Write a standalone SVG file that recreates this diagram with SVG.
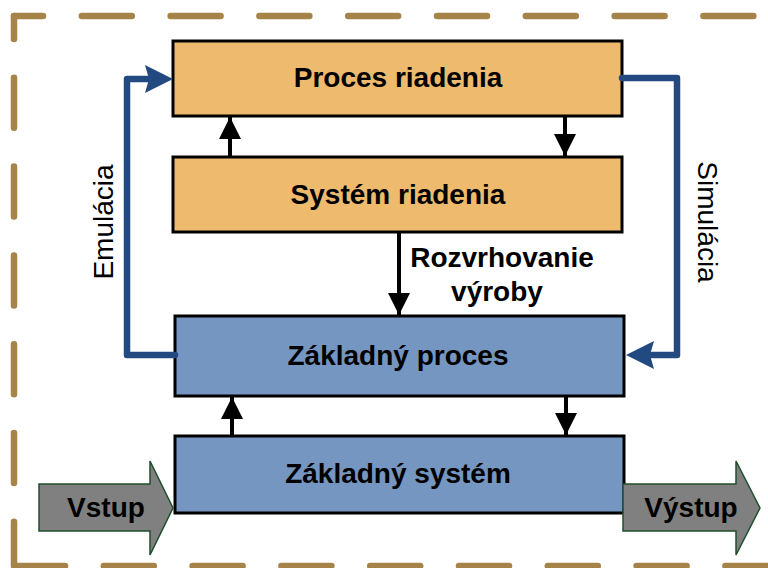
<svg xmlns="http://www.w3.org/2000/svg" width="768" height="568" viewBox="0 0 768 568">
  <style>
    .frame { fill: none; stroke: #A68449; stroke-width: 6.5; stroke-dasharray: 50 38.8; stroke-linecap: round; }
    .ctrl { fill: #EDBA6E; stroke: #000; stroke-width: 3; }
    .base { fill: #7496C0; stroke: #000; stroke-width: 3; }
    .lbl { font-family: "Liberation Sans", Arial, sans-serif; font-weight: bold; font-size: 28px; fill: #000; text-anchor: middle; }
    .side { font-family: "Liberation Sans", Arial, sans-serif; font-size: 28px; fill: #000; text-anchor: middle; }
    .blk { stroke: #000; stroke-width: 4; fill: none; }
    .blue { stroke: #224A80; stroke-width: 6.5; fill: none; stroke-linejoin: round; stroke-linecap: round; }
    .io { fill: #808080; stroke: #1F4E2B; stroke-width: 1.5; }
  </style>
  <defs>
    <marker id="ah" viewBox="0 0 10 10" refX="10" refY="5" markerWidth="5.5" markerHeight="5.5" markerUnits="strokeWidth" orient="auto">
      <path d="M0,0 L10,5 L0,10 Z" fill="#000"/>
    </marker>
  </defs>

  <!-- dashed outer frame, one line per side -->
  <g id="frame">
    <line class="frame" x1="14" y1="16" x2="774" y2="16" stroke-dashoffset="21"/>
    <line class="frame" x1="14" y1="16" x2="14" y2="566" stroke-dashoffset="27"/>
    <line class="frame" x1="14" y1="566" x2="774" y2="566" stroke-dashoffset="-1"/>
  </g>

  <g id="proces-riadenia">
    <rect class="ctrl" x="173" y="41" width="449" height="75"/>
    <text class="lbl" x="398" y="87">Proces riadenia</text>
  </g>
  <g id="system-riadenia">
    <rect class="ctrl" x="173" y="157" width="449" height="75"/>
    <text class="lbl" x="398" y="204">Systém riadenia</text>
  </g>
  <g id="zakladny-proces">
    <rect class="base" x="175" y="316" width="449" height="80"/>
    <text class="lbl" x="398" y="365">Základný proces</text>
  </g>
  <g id="zakladny-system">
    <rect class="base" x="175" y="436" width="449" height="77"/>
    <text class="lbl" x="398" y="483">Základný systém</text>
  </g>
  <g id="vstup">
    <path class="io" d="M39,484 H150 V461 L173,508 L150,555 V531 H39 Z"/>
    <text class="lbl" x="106" y="517">Vstup</text>
  </g>
  <g id="vystup">
    <path class="io" d="M623,484 H736 V461 L760,508 L736,555 V531 H623 Z"/>
    <text class="lbl" x="691" y="517">Výstup</text>
  </g>

  <g id="connectors">
    <line class="blk" x1="230" y1="157" x2="230" y2="117" marker-end="url(#ah)"/>
    <line class="blk" x1="565" y1="116" x2="565" y2="156" marker-end="url(#ah)"/>
    <line class="blk" x1="399" y1="232" x2="399" y2="315" marker-end="url(#ah)"/>
    <line class="blk" x1="232" y1="436" x2="232" y2="397" marker-end="url(#ah)"/>
    <line class="blk" x1="566" y1="396" x2="566" y2="435" marker-end="url(#ah)"/>

    <path class="blue" d="M175,355 H127 V79 H148"/>
    <path d="M145,65 L173,79 L145,93 L149,79 Z" fill="#224A80"/>
    <path class="blue" d="M622,78 H677 V355 H652"/>
    <path d="M654,341 L626,355 L654,369 L650,355 Z" fill="#224A80"/>

    <text class="lbl" x="502" y="267">Rozvrhovanie</text>
    <text class="lbl" x="497" y="301">výroby</text>
    <text class="side" transform="translate(113,222) rotate(-90)">Emulácia</text>
    <text class="side" transform="translate(698,222) rotate(90)">Simulácia</text>
  </g>
</svg>
